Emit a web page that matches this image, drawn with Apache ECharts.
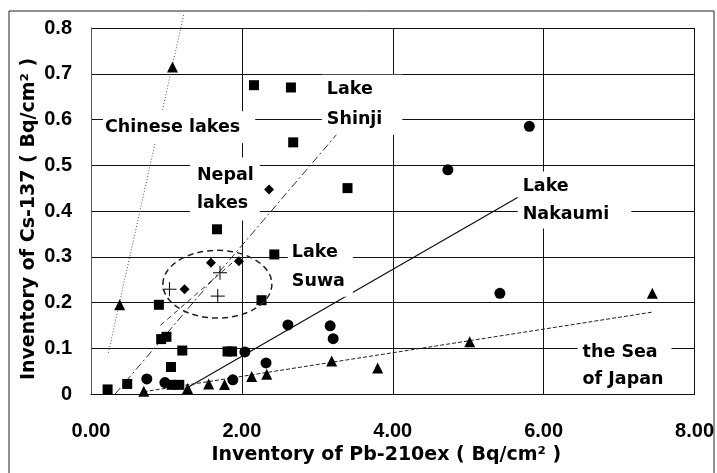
<!DOCTYPE html>
<html>
<head>
<meta charset="utf-8">
<script src="https://cdn.jsdelivr.net/npm/echarts@6/dist/echarts.min.js"></script>
<style>
  html, body { margin: 0; padding: 0; background: #fff; }
  #chart { width: 717px; height: 473px; }
</style>
</head>
<body>
<div id="chart"></div>
<script>
// Inventories: [Pb-210ex (Bq/cm2), Cs-137 (Bq/cm2)]
const shinjiPoints = [
  [0.22, 0.01], [0.48, 0.022], [0.90, 0.195], [0.93, 0.12], [1.00, 0.125],
  [1.06, 0.059], [1.07, 0.02], [1.17, 0.02], [1.21, 0.095], [1.67, 0.36],
  [1.81, 0.093], [1.87, 0.093], [2.16, 0.675], [2.26, 0.205], [2.43, 0.305],
  [2.65, 0.67], [2.68, 0.55], [3.40, 0.45]
];
const nakaumiPoints = [
  [0.74, 0.033], [0.98, 0.025], [1.88, 0.031], [2.04, 0.092], [2.32, 0.068],
  [2.61, 0.151], [3.17, 0.149], [3.21, 0.121], [4.73, 0.49], [5.42, 0.22],
  [5.81, 0.585]
];
const seaOfJapanPoints = [
  [0.70, 0.006], [1.28, 0.012], [1.56, 0.022], [1.77, 0.021], [2.13, 0.038],
  [2.33, 0.043], [3.19, 0.072], [3.80, 0.057], [5.02, 0.114], [7.44, 0.22]
];
const chineseLakePoints = [[0.38, 0.195], [1.08, 0.715]];
const nepalLakePoints = [[1.24, 0.229], [1.59, 0.287], [1.96, 0.29], [2.36, 0.447]];
const suwaPoints = [[1.04, 0.229], [1.68, 0.214], [1.71, 0.265]];

// Trend lines, each given by its two end points
const chineseTrend = [[0.23, 0.09], [1.23, 0.83]];
const shinjiTrend = [[0.32, 0.0], [3.27, 0.57]];
const nepalTrend = [[0.92, 0.15], [2.0, 0.305]];
const nakaumiTrend = [[1.27, 0.013], [5.66, 0.43]];
const seaTrend = [[0.70, 0.005], [7.44, 0.179]];

// Axis ticks
const xTicks = [0, 2, 4, 6, 8];
const yTicks = [0, 0.1, 0.2, 0.3, 0.4, 0.5, 0.6, 0.7, 0.8];

// Group names
const groupNames = ['Chinese lakes', 'Nepal\nlakes', 'Lake\nShinji', 'Lake\nSuwa', 'Lake\nNakaumi', 'the Sea\nof Japan'];
// Where each group name box starts (left edge / vertical middle, in axis units)
const namePlaces = [[0.159, 0.583], [1.311, 0.448], [3.06, 0.632], [2.609, 0.278], [5.656, 0.424], [6.45, 0.062]];
// Line spacing and white margin of each name box
const nameSpacing = [24, 28, 30, 29, 28, 27];
const namePadding = [[4, 15, 4, 2], [4, 6, 3, 7], [0, 20, 0, 5], [0, 8, 2, 4], [1, 22, 0, 5], [0, 8, 0, 5]];
// Dashed outline around the Lake Suwa / Nepal cluster: centre and radii in axis units
const clusterOutline = { cx: 1.675, cy: 0.240, rx: 0.722, ry: 0.074 };

const NUM_FONT = '"Liberation Sans", Arial, sans-serif';
const TXT_FONT = '"DejaVu Sans", Verdana, sans-serif';
const chart = echarts.init(document.getElementById('chart'), null, { renderer: 'canvas' });

function trend(data, type, color, width) {
  return {
    type: 'line', data: data, showSymbol: false, silent: true, clip: false, z: 2,
    lineStyle: { color: color, width: width, type: type }
  };
}
function dots(data, symbol, size, extra) {
  return Object.assign({
    type: 'scatter', data: data, symbol: symbol, symbolSize: size, z: 4, silent: true,
    itemStyle: { color: '#000', opacity: 1 }
  }, extra || {});
}

const nameLabels = {
  type: 'scatter', symbolSize: 0, silent: true, z: 10,
  itemStyle: { opacity: 1 },
  data: namePlaces.map((p, i) => ({
    value: p, name: groupNames[i],
    label: { lineHeight: nameSpacing[i], padding: namePadding[i] }
  })),
  label: {
    show: true, position: 'inside', align: 'left', verticalAlign: 'middle',
    formatter: p => p.name,
    color: '#000', textBorderWidth: 0, fontFamily: TXT_FONT, fontWeight: 'bold', fontSize: 17.5,
    backgroundColor: '#fff'
  }
};

chart.setOption({
  animation: false,
  backgroundColor: '#fff',
  grid: { left: 91, right: 22, top: 28, bottom: 79 },
  xAxis: {
    type: 'value', min: xTicks[0], max: xTicks[xTicks.length - 1], interval: xTicks[1] - xTicks[0],
    name: 'Inventory of Pb-210ex ( Bq/cm² )', nameLocation: 'middle', nameGap: 52,
    nameTextStyle: { color: '#000', fontFamily: TXT_FONT, fontWeight: 'bold', fontSize: 19,
                     padding: [0, 13, 0, 0] },
    axisLine: { lineStyle: { color: '#111', width: 1 } },
    axisTick: { show: false },
    axisLabel: { color: '#000', fontFamily: NUM_FONT, fontWeight: 'bold', fontSize: 20, margin: 27,
                 formatter: v => v.toFixed(2) },
    splitLine: { show: true, lineStyle: { color: '#111', width: 1 } }
  },
  yAxis: {
    type: 'value', min: yTicks[0], max: yTicks[yTicks.length - 1], interval: 0.1,
    name: 'Inventory of Cs-137 ( Bq/cm² )', nameLocation: 'middle', nameGap: 52,
    nameMoveOverlap: false,
    nameTextStyle: { color: '#000', fontFamily: TXT_FONT, fontWeight: 'bold', fontSize: 19,
                     padding: [0, 16, 0, 0] },
    axisLine: { show: true, lineStyle: { color: '#555', width: 1 } },
    axisTick: { show: false },
    axisLabel: { color: '#000', fontFamily: NUM_FONT, fontWeight: 'bold', fontSize: 20, margin: 19,
                 formatter: v => (v === 0 ? '0' : v.toFixed(1)) },
    splitLine: { show: true, lineStyle: { color: '#111', width: 1 } }
  },
  series: [
    trend(chineseTrend, [1, 2], '#555', 1),
    trend(shinjiTrend, [8, 3, 2, 3], '#333', 1),
    trend(nepalTrend, [5, 4], '#333', 1),
    trend(nakaumiTrend, 'solid', '#111', 1.3),
    trend(seaTrend, [4, 2], '#222', 1),
    dots(shinjiPoints, 'rect', 10),
    dots(nakaumiPoints, 'circle', 11),
    dots(seaOfJapanPoints, 'triangle', 11),
    dots(chineseLakePoints, 'triangle', 11),
    dots(nepalLakePoints, 'diamond', 10),
    dots(suwaPoints, 'path://M0,7L14,7M7,0L7,14', 14,
         { itemStyle: { color: 'none', borderColor: '#000', borderWidth: 1, opacity: 1 } }),
    nameLabels
  ]
});

// Frame around the whole figure and the dashed cluster outline, placed through the axes
const c0 = chart.convertToPixel({ xAxisIndex: 0, yAxisIndex: 0 }, [clusterOutline.cx, clusterOutline.cy]);
const c1 = chart.convertToPixel({ xAxisIndex: 0, yAxisIndex: 0 },
  [clusterOutline.cx + clusterOutline.rx, clusterOutline.cy + clusterOutline.ry]);
chart.setOption({
  graphic: [
    { type: 'rect', shape: { x: 9, y: 11, width: 705, height: 480 }, silent: true,
      style: { fill: 'none', stroke: '#222', lineWidth: 1 } },
    { type: 'ellipse', silent: true, z: 5,
      shape: { cx: c0[0], cy: c0[1], rx: c1[0] - c0[0], ry: c0[1] - c1[1] },
      style: { fill: 'none', stroke: '#222', lineWidth: 1.5, lineDash: [6, 4] } }
  ]
});
</script>
</body>
</html>
